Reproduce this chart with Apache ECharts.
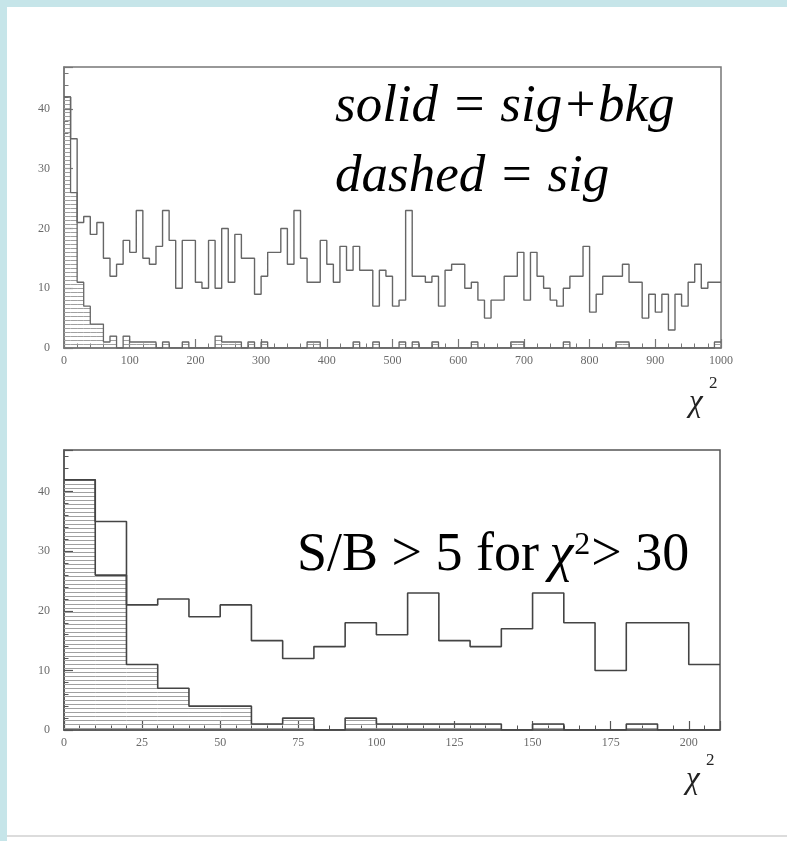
<!DOCTYPE html>
<html><head><meta charset="utf-8">
<script src="https://cdn.jsdelivr.net/npm/echarts@6/dist/echarts.min.js"></script>
<style>html,body{margin:0;padding:0;background:#fff}#c{width:787px;height:841px}</style>
</head><body><div id="c"></div>
<script>
// ---- data (chi^2 histograms, 10-unit bins) ----
const binWidth = 10;
const sigBkg = [
  42,35,21,22,19,21,15,12,14,18, 16,23,15,14,17,23,18,10,18,18,
  11,10,18,10,20,11,19,15,15,9,  12,16,16,20,14,23,15,11,11,18,
  14,11,17,13,17,13,13,7,13,12,  7,8,23,12,12,11,12,7,13,14,
  14,10,11,8,5,8,8,12,12,16,     8,16,12,10,8,7,10,12,12,17,
  6,9,12,12,12,14,11,11,5,9,     6,9,3,9,7,11,14,10,11,11
];
const sig = [
  42,26,11,7,4,4,1,2,0,2, 1,1,1,1,0,1,0,0,1,0,
  0,0,0,2,1,1,1,0,1,0,    1,0,0,0,0,0,0,1,1,0,
  0,0,0,0,1,0,0,1,0,0,    0,1,0,1,0,0,1,0,0,0,
  0,0,1,0,0,0,0,0,1,1,    0,0,0,0,0,0,1,0,0,0,
  0,0,0,0,1,1,0,0,0,0,    0,0,0,0,0,0,0,0,0,1
];
const nBinsZoom = 21;            // lower panel shows 0..210
const yTickLabels = [0, 10, 20, 30, 40];
const topXTickLabels = [0,100,200,300,400,500,600,700,800,900,1000];
const botXTickLabels = [0,25,50,75,100,125,150,175,200];

// ---- helpers ----
function stepData(values){
  const d = values.map((v,i)=>[i*binWidth, v]);
  d.push([values.length*binWidth, values[values.length-1]]);
  return d;
}
const pc = document.createElement('canvas');
pc.width = 4; pc.height = 4;
const pctx = pc.getContext('2d');
pctx.fillStyle = '#a0a0a0';
pctx.fillRect(0,0,4,1);
const hatch = {image: pc, repeat: 'repeat'};

function hatchSeries(values, idx){
  return {
    type:'custom', xAxisIndex: idx, yAxisIndex: idx, silent: true, z: 1,
    data: values.map((v,i)=>[i*binWidth, (i+1)*binWidth, v]),
    encode: {x:[0,1], y:2},
    renderItem: function(params, api){
      const lo = api.value(0), hi = api.value(1), v = api.value(2);
      if (!v) return null;
      const p0 = api.coord([lo, 0]), p1 = api.coord([hi, v]);
      const cs = params.coordSys;
      const r = echarts.graphic.clipRectByRect(
        {x: p0[0], y: p1[1], width: p1[0]-p0[0], height: p0[1]-p1[1]},
        {x: cs.x, y: cs.y, width: cs.width, height: cs.height});
      if (!r) return null;
      return {type:'rect', shape: r, style: {fill: hatch}};
    }
  };
}
function lineSeries(values, idx, color, width){
  return {
    type:'line', xAxisIndex: idx, yAxisIndex: idx, step:'end', symbol:'none',
    silent: true, z: 3, data: stepData(values),
    lineStyle: {color: color, width: width}
  };
}
const labelFont = {color:'#6a6a6a', fontSize: 12, fontFamily:'"Liberation Serif", serif'};
function xAxis(idx, max, interval, labels, color){
  return {
    type:'value', gridIndex: idx, min: 0, max: max, interval: interval,
    axisLine: {show: true, lineStyle: {color: color, width: 1.5}},
    axisTick: {inside: true, length: 9, lineStyle: {color: color, width: 1.2}},
    minorTick: {show: true, splitNumber: 5, length: 4.5, lineStyle: {color: color, width: 1}},
    splitLine: {show: false},
    axisLabel: Object.assign({margin: 7,
      formatter: v => labels.includes(v) ? String(v) : ''}, labelFont)
  };
}
function yAxis(idx, color){
  return {
    type:'value', gridIndex: idx, min: 0, max: 47, interval: 10,
    axisLine: {show: true, lineStyle: {color: color, width: 1.5}},
    axisTick: {inside: true, length: 9, lineStyle: {color: color, width: 1.2}},
    minorTick: {show: true, splitNumber: 5, length: 4.5, lineStyle: {color: color, width: 1}},
    splitLine: {show: false},
    axisLabel: Object.assign({margin: 14,
      formatter: v => yTickLabels.includes(v) ? String(v) : ''}, labelFont)
  };
}

const chart = echarts.init(document.getElementById('c'), null, {renderer:'canvas'});
const serif = '"Liberation Serif", "DejaVu Serif", serif';

// measure pieces of the S/B annotation
const mc = document.createElement('canvas').getContext('2d');
function tw(t, f){ mc.font = f; return mc.measureText(t).width; }
const sbSize = 54, supSize = 32;
const sbFont = sbSize + 'px ' + serif, chiFont = 'italic ' + sbSize + 'px ' + serif, supFont = supSize + 'px ' + serif;
const asc = 0.83;                       // top-of-box to baseline ratio
const sbX = 297, sbBase = 574;
const part1 = 'S/B > 5 for ', chi = '\u03c7', part2 = '2', part3 = '> 30';
const w1 = tw(part1, sbFont), wc = tw(chi, chiFont), w2 = tw(part2, supFont);
const txtSize = 53;
const txtFont = 'italic ' + txtSize + 'px ' + serif;

chart.setOption({
  animation: false,
  backgroundColor: '#ffffff',
  grid: [
    {left: 64, top: 67, width: 657, height: 281, show: true, borderColor: '#777', borderWidth: 1.5, backgroundColor: 'transparent'},
    {left: 64, top: 450, width: 656, height: 280, show: true, borderColor: '#555', borderWidth: 1.5, backgroundColor: 'transparent'}
  ],
  xAxis: [
    xAxis(0, 1000, 100, topXTickLabels, '#777'),
    xAxis(1, 210, 25, botXTickLabels, '#555')
  ],
  yAxis: [yAxis(0, '#777'), yAxis(1, '#555')],
  series: [
    hatchSeries(sig, 0),
    lineSeries(sig, 0, '#666', 1.3),
    lineSeries(sigBkg, 0, '#666', 1.4),
    hatchSeries(sig.slice(0, nBinsZoom), 1),
    lineSeries(sig.slice(0, nBinsZoom), 1, '#444', 1.6),
    lineSeries(sigBkg.slice(0, nBinsZoom), 1, '#444', 1.6)
  ],
  graphic: [
    {type:'rect', shape:{x:0, y:0, width:787, height:7}, style:{fill:'#c6e5e9'}, z: 100},
    {type:'rect', shape:{x:0, y:0, width:7, height:841}, style:{fill:'#c6e5e9'}, z: 100},
    {type:'rect', shape:{x:7, y:835, width:780, height:2}, style:{fill:'#dcdcdc'}, z: 100},
    {type:'text', x: 335, y: 125 - asc*txtSize, style:{text:'solid = sig+bkg', font: txtFont, fill:'#000', verticalAlign:'top'}, z: 100},
    {type:'text', x: 335, y: 195 - asc*txtSize, style:{text:'dashed = sig', font: txtFont, fill:'#000', verticalAlign:'top'}, z: 100},
    {type:'text', x: sbX, y: sbBase - asc*sbSize, style:{text: part1, font: sbFont, fill:'#000', verticalAlign:'top'}, z: 100},
    {type:'text', x: sbX + w1 - 3, y: sbBase - asc*sbSize, style:{text: chi, font: chiFont, fill:'#000', verticalAlign:'top'}, z: 100},
    {type:'text', x: sbX + w1 + wc - 2, y: sbBase - 8 - asc*supSize - 0.3*supSize, style:{text: part2, font: supFont, fill:'#000', verticalAlign:'top'}, z: 100},
    {type:'text', x: sbX + w1 + wc + w2 - 1, y: sbBase - asc*sbSize, style:{text: part3, font: sbFont, fill:'#000', verticalAlign:'top'}, z: 100},
    {type:'text', x: 689, y: 387, style:{text:'\u03c7', font:'italic 31px ' + serif, fill:'#222', verticalAlign:'top'}, z: 100},
    {type:'text', x: 709, y: 375, style:{text:'2', font:'17px ' + serif, fill:'#222', verticalAlign:'top'}, z: 100},
    {type:'text', x: 686, y: 764, style:{text:'\u03c7', font:'italic 31px ' + serif, fill:'#222', verticalAlign:'top'}, z: 100},
    {type:'text', x: 706, y: 752, style:{text:'2', font:'17px ' + serif, fill:'#222', verticalAlign:'top'}, z: 100}
  ]
});
</script>
</body></html>
